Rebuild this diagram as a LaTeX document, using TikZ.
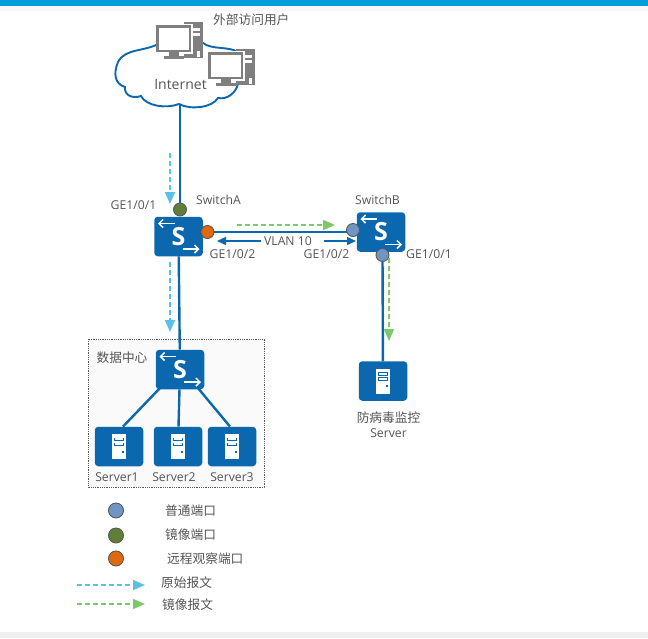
\documentclass[tikz,border=0pt]{standalone}
\usepackage{fontspec}
\setmainfont{Open Sans}
\newfontfamily\cjk{Noto Sans CJK SC}
\usetikzlibrary{arrows.meta,backgrounds}
\definecolor{netblue}{HTML}{0B68AE}
\definecolor{inkgray}{HTML}{555555}
\definecolor{pcgray}{HTML}{7F7F7F}
\definecolor{flowblue}{HTML}{5BC0E6}
\definecolor{flowgreen}{HTML}{7CC76A}
\definecolor{portplain}{HTML}{7094C4}
\definecolor{portmirror}{HTML}{5F7F36}
\definecolor{portremote}{HTML}{E0690F}
\definecolor{topbar}{HTML}{009FDC}
\tikzset{
  device/.style={fill=netblue,rounded corners=3.5pt,minimum width=48.5pt,minimum height=39.5pt,inner sep=0pt,text=white,font=\fontsize{25}{25}\selectfont\bfseries},
  link/.style={draw=netblue,line width=2.4pt},
  portdot/.style={circle,draw=black!65,line width=0.9pt,minimum size=13pt,inner sep=0pt},
  plainport/.style={portdot,fill=portplain},
  mirrorport/.style={portdot,fill=portmirror},
  remoteport/.style={portdot,fill=portremote},
  lbl/.style={text=inkgray,font=\fontsize{12.2}{14}\selectfont,inner sep=0pt},
  cjklbl/.style={text=inkgray,font=\cjk\fontsize{12.7}{14}\selectfont,inner sep=0pt},
  whitearrow/.style={draw=white,line width=1.5pt,-{Straight Barb[length=4pt,width=8pt]}},
  rawflow/.style={draw=flowblue,line width=1.5pt,dash pattern=on 4.5pt off 3.5pt,-{Triangle[length=12pt,width=10pt]}},
  mirrorflow/.style={draw=flowgreen,line width=1.5pt,dash pattern=on 4.5pt off 3.5pt,-{Triangle[length=12pt,width=10pt]}},
  vlanarrow/.style={draw=netblue,line width=1.4pt,-{Triangle[length=9pt,width=8pt]}},
  pc/.pic={
    \fill[pcgray] (28,-3) rectangle (47,33);
    \fill[white] (31,3) rectangle (44,6);
    \fill[white] (31,8) rectangle (44,11);
    \fill[white] (41,26) rectangle (44,32);
    \fill[white] (0,-1) rectangle (37,29);
    \fill[pcgray] (0,0) rectangle (35,27);
    \fill[white] (2.5,2.5) rectangle (32.5,24.5);
    \fill[pcgray] (13,27) rectangle (23,31);
    \fill[pcgray] (8,31) rectangle (28,33.5);
  },
  towerglyph/.pic={
    \fill[white] (-7,-12.5) rectangle (7,12.5);
    \fill[netblue] (-5,-9) rectangle (5,-5.5);
    \fill[white] (-4,-8.2) rectangle (4,-6.3);
    \fill[netblue] (-5,-4) rectangle (5,-0.5);
    \fill[white] (-4,-3.2) rectangle (4,-1.3);
    \fill[netblue] (3,4) rectangle (4.5,6);
  }
}
% the two white arrows on a switch face
\newcommand{\switchmarks}[1]{
  \draw[whitearrow] ([shift={(-4,-13)}]#1.center) -- ([shift={(-20.5,-13)}]#1.center);
  \draw[whitearrow] ([shift={(4,12.5)}]#1.center) -- ([shift={(21,12.5)}]#1.center);
}
\begin{document}
\begin{tikzpicture}[x=1pt,y=-1pt]
\useasboundingbox (0,0) rectangle (648,638);

% Internet cloud
\draw[netblue,line width=1.9pt,fill=white]
  (160,43) .. controls (145,52) and (125,48) .. (118,62)
  .. controls (113,74) and (115,84) .. (125,87)
  .. controls (124,95) and (132,99) .. (141,96)
  .. controls (146,106) and (166,109) .. (179,104)
  .. controls (190,110) and (212,108) .. (218,98)
  .. controls (228,100) and (236,92) .. (238,84)
  .. controls (250,82) and (252,62) .. (238,52)
  .. controls (228,46) and (212,50) .. (203,43)
  -- cycle;
\coordinate (cloudfoot) at (180,105);
\node[lbl,font=\fontsize{14}{16}\selectfont] (inet) at (180.5,85) {Internet};
\pic at (156,25) {pc};
\pic at (208,52) {pc};
\node[cjklbl,anchor=west] (users) at (213,20) {外部访问用户};

% switches and servers
\node[device] (swA) at (178.5,236.5) {S};
\node[device] (swB) at (381,232) {S};
\node[device] (swC) at (180,369.5) {S};
\node[device] (srv1) at (119,446.5) {};
\node[device] (srv2) at (178,446.5) {};
\node[device] (srv3) at (232,446.5) {};
\node[device] (srv4) at (383,381) {};
\switchmarks{swA}
\switchmarks{swB}
\switchmarks{swC}
\foreach \s in {srv1,srv2,srv3,srv4} \pic at (\s) {towerglyph};

% ports
\node[mirrorport] (pAup) at (180,209.5) {};
\node[remoteport] (pAr) at (207.5,232) {};
\node[plainport] (pBl) at (353,230) {};
\node[plainport] (pBd) at (382.5,255) {};

% page ground, data-centre frame and links sit under the devices
\begin{scope}[on background layer]
\fill[white] (0,0) rectangle (648,638);
\fill[black!6] (0,632) rectangle (648,638);
\fill[black!3] (0,6) rectangle (648,11);
\fill[topbar] (0,0) rectangle (648,6);
\draw[black!65,line width=0.8pt,densely dotted,fill=black!2] (88,339) rectangle (264,487);
\draw[link] (cloudfoot) -- (pAup);
\draw[link] (swA) -- (swC);
\draw[link] (pAr) -- (pAr -| pBl);
\draw[link] (pBd) -- (srv4);
\draw[link] (swC) -- (srv2);
\path (swC.south west) ++(5,-2) coordinate (cl) (srv1.north) ++(4,0) coordinate (s1t);
\draw[link] (cl) -- (s1t);
\path (swC.south east) ++(-7,-2) coordinate (cr) (srv3.north) ++(-2,0) coordinate (s3t);
\draw[link] (cr) -- (s3t);
\end{scope}

% traffic arrows
\coordinate (r1a) at (170,153);
\coordinate (r1b) at (170,204);
\coordinate (r2a) at (170,262);
\coordinate (r2b) at (170,332);
\coordinate (m1a) at (237,225);
\coordinate (m1b) at (335,225);
\coordinate (m2a) at (389,258);
\coordinate (m2b) at (389,341);
\draw[rawflow] (r1a) -- (r1b);
\draw[rawflow] (r2a) -- (r2b);
\draw[mirrorflow] (m1a) -- (m1b);
\draw[mirrorflow] (m2a) -- (m2b);

% VLAN span
\node[lbl] (vlan) at (288,241) {VLAN 10};
\coordinate (vlt) at (217,241);
\coordinate (vrt) at (356,241);
\path (vlan.west) ++(-3,0) coordinate (vl);
\path (vlan.east) ++(12,0) coordinate (vr);
\draw[vlanarrow] (vl) -- (vlt);
\draw[vlanarrow] (vr) -- (vrt);

% labels
\node[lbl] (lbA) at (133.5,205) {GE1/0/1};
\node[lbl] (lbB) at (218.5,200) {SwitchA};
\node[lbl] (lbC) at (232.5,254.5) {GE1/0/2};
\node[lbl] (lbD) at (326.5,254.5) {GE1/0/2};
\node[lbl] (lbE) at (377.5,200) {SwitchB};
\node[lbl] (lbF) at (429,254.5) {GE1/0/1};
\node[cjklbl] (lbG) at (122,357.5) {数据中心};
\node[lbl] (s1) at (117,477.5) {Server1};
\node[lbl] (s2) at (174,477.5) {Server2};
\node[lbl] (s3) at (232,477.5) {Server3};
\node[cjklbl] (lbH) at (388.5,418) {防病毒监控};
\node[lbl] (lbI) at (388.5,433) {Server};

% legend
\node[plainport,minimum size=15pt] (k1) at (116,510.5) {};
\node[mirrorport,minimum size=15pt] (k2) at (116,535.5) {};
\node[remoteport,minimum size=15pt] (k3) at (116,558.5) {};
\node[cjklbl,anchor=west] (t1) at (165,511) {普通端口};
\node[cjklbl,anchor=west] (t2) at (165,535) {镜像端口};
\node[cjklbl,anchor=west] (t3) at (167,559) {远程观察端口};
\node[cjklbl,anchor=west] (t4) at (161,583) {原始报文};
\node[cjklbl,anchor=west] (t5) at (162,605) {镜像报文};
\coordinate (f1) at (77,585);
\coordinate (f2) at (145,585);
\coordinate (g1) at (77,604);
\coordinate (g2) at (145,604);
\draw[rawflow] (f1) -- (f2);
\draw[mirrorflow] (g1) -- (g2);
\end{tikzpicture}
\end{document}
